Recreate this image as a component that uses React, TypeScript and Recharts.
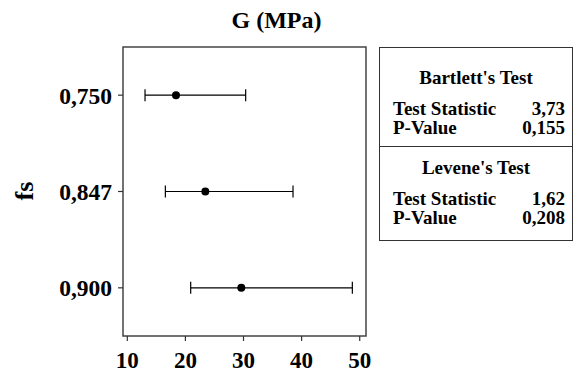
import React from 'react';
import { ScatterChart, Scatter, XAxis, YAxis, ErrorBar, ReferenceArea } from 'recharts';

const categories = ['0,750', '0,847', '0,900'];
const means = [18.38, 23.43, 29.62];
const lows = [13.05, 16.55, 20.91];
const highs = [30.37, 38.52, 48.73];
const xTicks = [10, 20, 30, 40, 50];

const bartlettRows = [
  { label: 'Test Statistic', value: '3,73' },
  { label: 'P-Value', value: '0,155' },
];
const leveneRows = [
  { label: 'Test Statistic', value: '1,62' },
  { label: 'P-Value', value: '0,208' },
];

const data = categories.map((c, i) => ({
  x: means[i],
  y: i,
  err: [means[i] - lows[i], highs[i] - means[i]],
}));

const FONT = '"Liberation Serif", "Times New Roman", serif';
const X_MIN = 9.26;
const X_MAX = 51.08;

const Dot = (props: any) => <circle cx={props.cx} cy={props.cy} r={4} fill="#000" />;

const rowStyle = (top: number): React.CSSProperties => ({
  position: 'absolute',
  left: 0,
  right: 0,
  top: top - 11,
  height: 22,
  lineHeight: '22px',
  fontFamily: FONT,
  fontWeight: 'bold',
  fontSize: 19,
  color: '#000',
  whiteSpace: 'nowrap',
});

export default function App() {
  return (
    <div style={{ position: 'absolute', left: 0, top: 0, width: 574, height: 374, background: '#fff' }}>
      <div
        style={{
          position: 'absolute',
          left: 0,
          width: 553,
          top: 4,
          textAlign: 'center',
          fontFamily: FONT,
          fontWeight: 'bold',
          fontSize: 24,
          lineHeight: '32px',
        }}
      >
        G (MPa)
      </div>
      <ScatterChart width={574} height={374} margin={{ top: 47, right: 208, bottom: 0, left: 0 }}>
        <XAxis
          type="number"
          dataKey="x"
          domain={[X_MIN, X_MAX]}
          ticks={xTicks}
          allowDataOverflow
          axisLine={false}
          tickLine={{ stroke: '#333', strokeWidth: 1.2 }}
          tickSize={5}
          tickMargin={11}
          height={38}
          tick={{ fontFamily: FONT, fontWeight: 'bold', fontSize: 23, fill: '#000' }}
        />
        <YAxis
          type="number"
          dataKey="y"
          domain={[-0.5, 2.5]}
          ticks={[0, 1, 2]}
          reversed
          allowDataOverflow
          width={123}
          axisLine={false}
          tickLine={{ stroke: '#333', strokeWidth: 1.2 }}
          tickSize={5}
          tickMargin={6}
          tickFormatter={(v: number) => categories[v] ?? ''}
          tick={{ fontFamily: FONT, fontWeight: 'bold', fontSize: 23.5, fill: '#000' }}
          label={{
            content: () => (
              <text
                x={24}
                y={191}
                transform="rotate(-90 24 191)"
                textAnchor="middle"
                dominantBaseline="central"
                fontFamily={FONT}
                fontWeight="bold"
                fontSize={26}
                fill="#000"
              >
                fs
              </text>
            ),
          }}
        />
        <ReferenceArea
          x1={X_MIN}
          x2={X_MAX}
          y1={-0.5}
          y2={2.5}
          fill="none"
          fillOpacity={0}
          stroke="#444"
          strokeWidth={1.5}
          ifOverflow="visible"
        />
        <Scatter data={data} isAnimationActive={false} shape={Dot}>
          <ErrorBar dataKey="err" direction="x" width={6} stroke="#000" strokeWidth={1.2} isAnimationActive={false} />
        </Scatter>
      </ScatterChart>
      <div
        style={{
          position: 'absolute',
          left: 379,
          top: 47,
          width: 194,
          height: 194,
          border: '1px solid #333',
          boxSizing: 'border-box',
        }}
      >
        <div style={{ ...rowStyle(30), textAlign: 'center' }}>Bartlett's Test</div>
        {bartlettRows.map((r, i) => (
          <div key={'b' + i} style={rowStyle(61 + i * 19)}>
            <span style={{ position: 'absolute', left: 13 }}>{r.label}</span>
            <span style={{ position: 'absolute', right: 7 }}>{r.value}</span>
          </div>
        ))}
        <div style={{ position: 'absolute', left: 0, right: 0, top: 98, borderTop: '1px solid #333' }} />
        <div style={{ ...rowStyle(120), textAlign: 'center' }}>Levene's Test</div>
        {leveneRows.map((r, i) => (
          <div key={'l' + i} style={rowStyle(151 + i * 19)}>
            <span style={{ position: 'absolute', left: 13 }}>{r.label}</span>
            <span style={{ position: 'absolute', right: 7 }}>{r.value}</span>
          </div>
        ))}
      </div>
    </div>
  );
}
